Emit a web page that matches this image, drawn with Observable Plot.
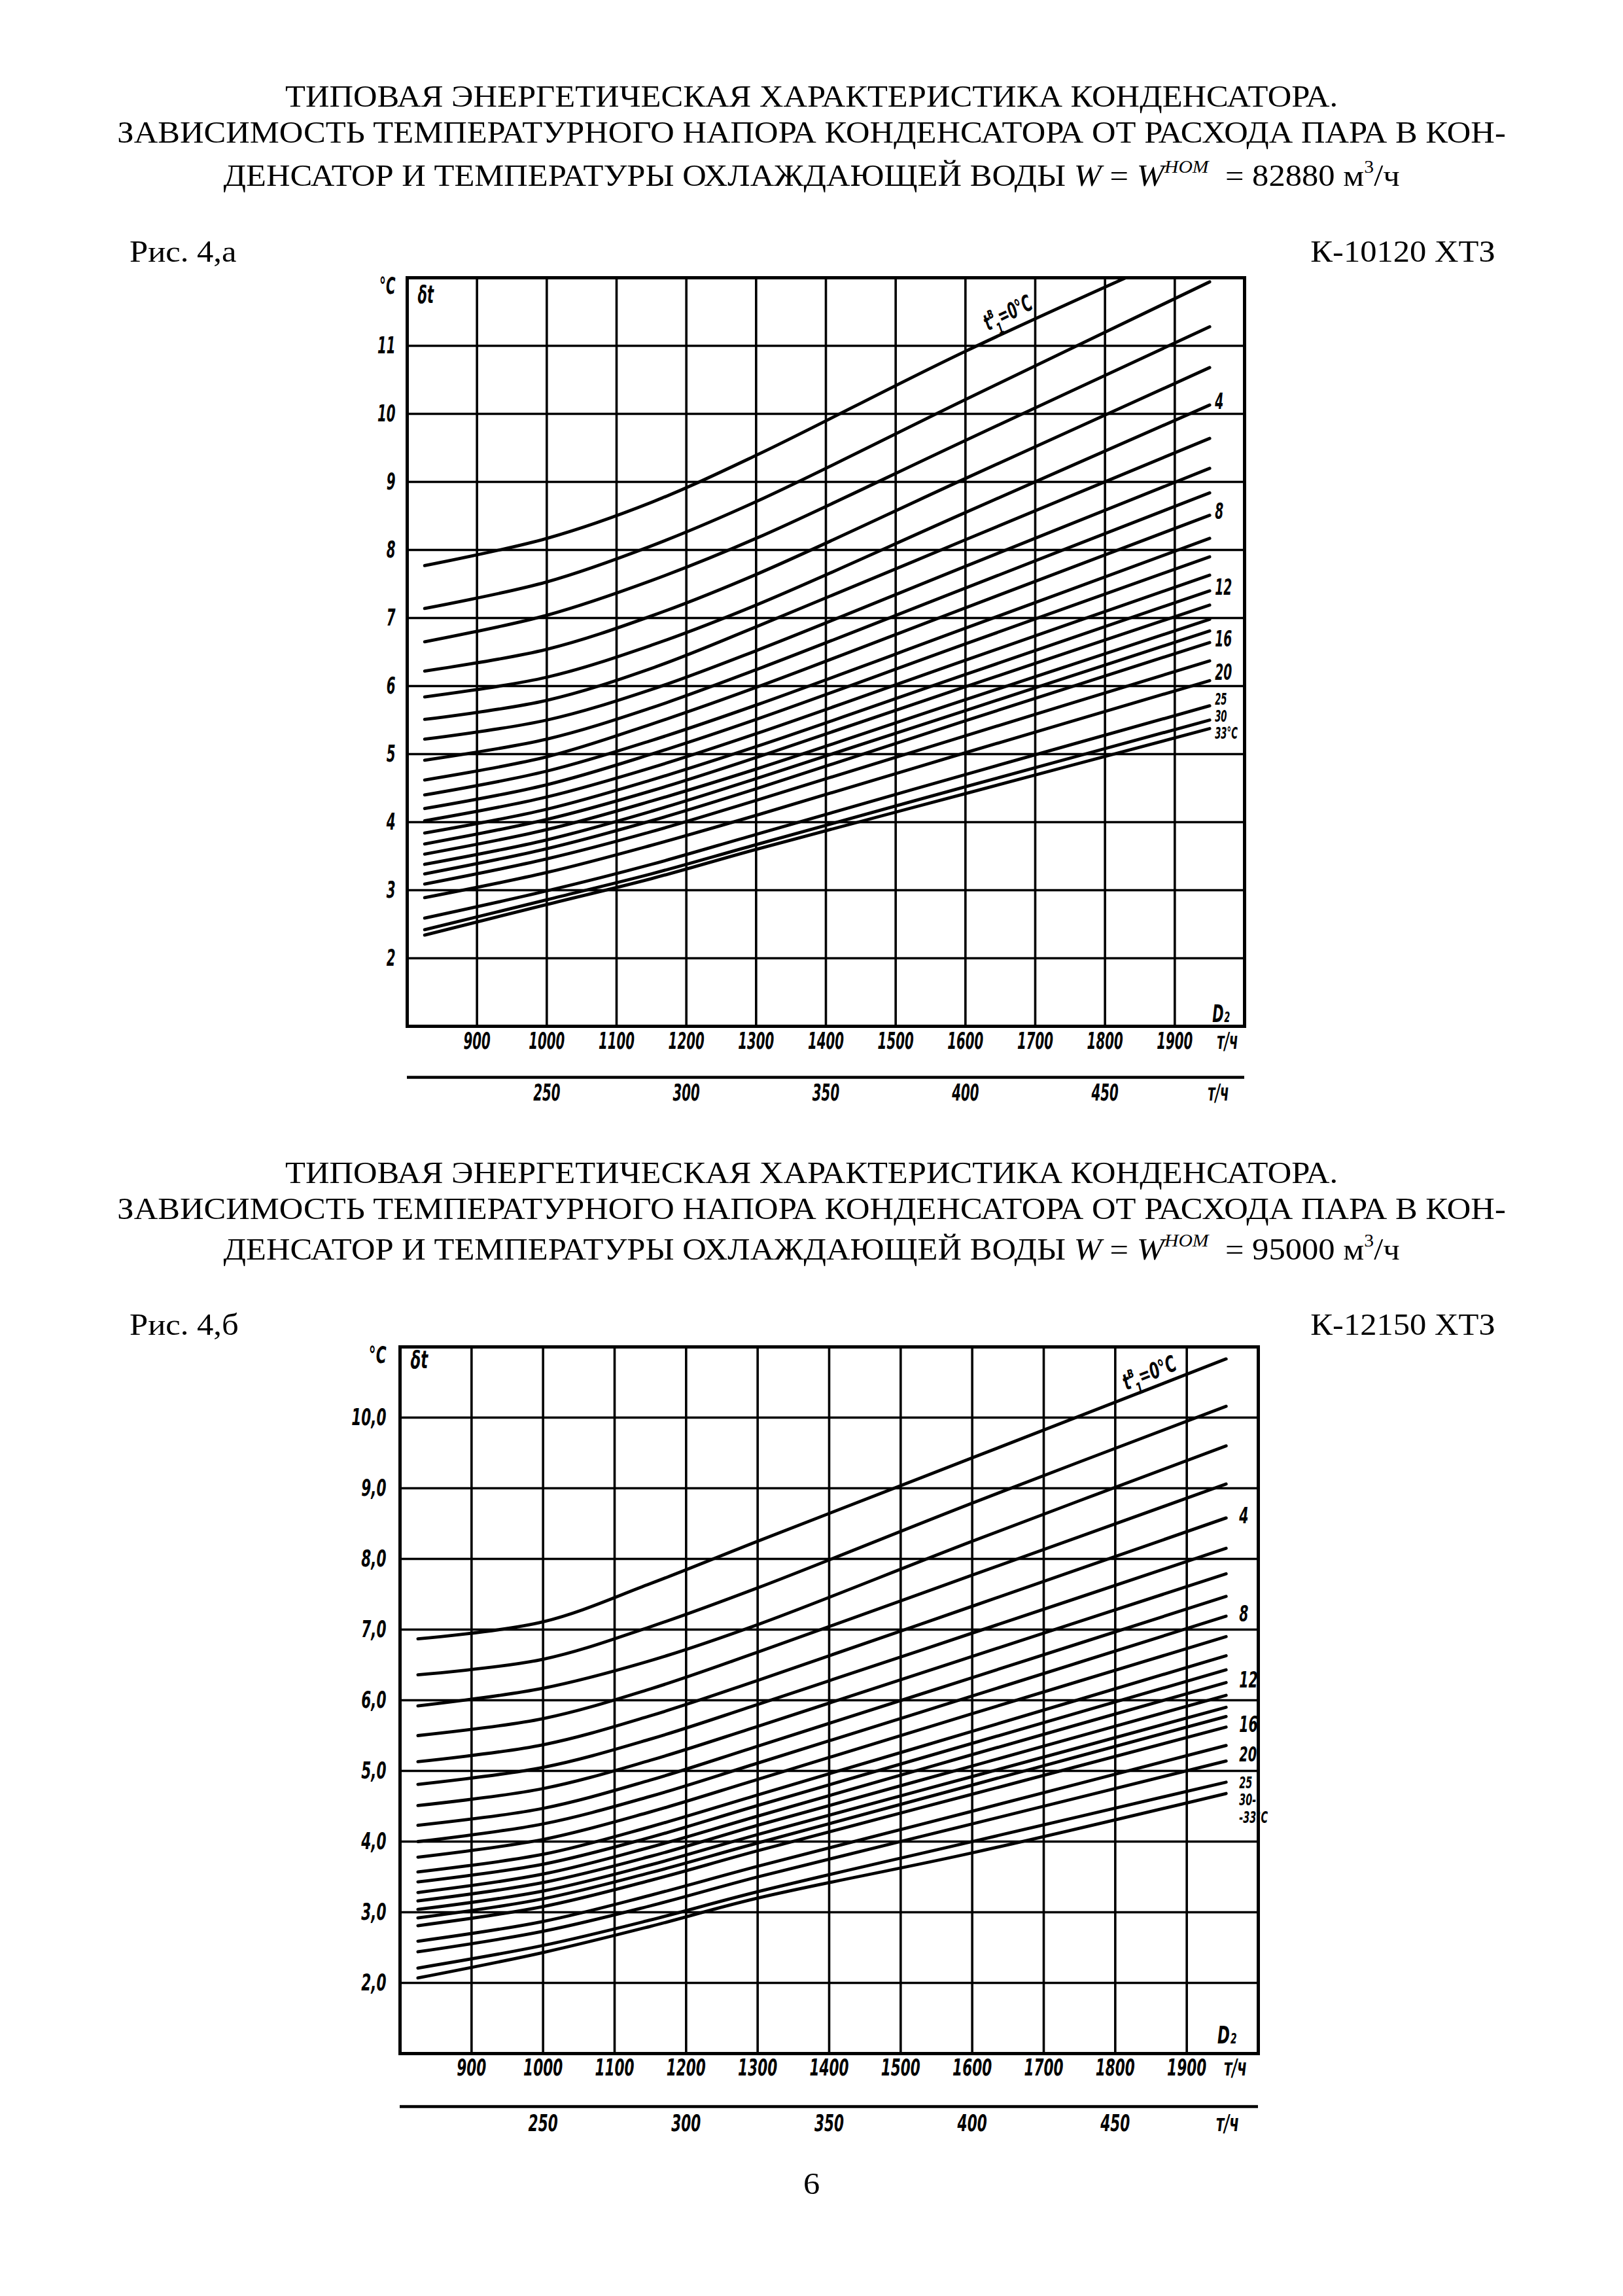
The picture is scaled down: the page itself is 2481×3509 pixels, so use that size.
<!DOCTYPE html>
<html><head><meta charset="utf-8">
<script src="https://cdn.jsdelivr.net/npm/d3@7"></script>
<script src="https://cdn.jsdelivr.net/npm/@observablehq/plot@0.6"></script>
<style>
html,body{margin:0;padding:0;background:#fff;}
#page{position:relative;width:2481px;height:3509px;background:#fff;font-family:"Liberation Serif","Times New Roman",serif;color:#000;overflow:hidden;}
.tl{position:absolute;left:0;width:2481px;text-align:center;font-size:46px;line-height:46px;white-space:nowrap;transform:scaleX(1.1);transform-origin:1240px 0;}
.fig{position:absolute;font-size:46px;line-height:46px;white-space:nowrap;transform:scaleX(1.1);}
.fl{transform-origin:left top;}
.fr{transform-origin:right top;}
.chart{position:absolute;}
.tl sup{font-size:27px;line-height:0;position:relative;top:-4px;}
</style></head>
<body><div id="page">
<div class="tl" style="top:125px">ТИПОВАЯ ЭНЕРГЕТИЧЕСКАЯ ХАРАКТЕРИСТИКА КОНДЕНСАТОРА.</div>
<div class="tl" style="top:180px">ЗАВИСИМОСТЬ ТЕМПЕРАТУРНОГО НАПОРА КОНДЕНСАТОРА ОТ РАСХОДА ПАРА В КОН-</div>
<div class="tl" style="top:246px">ДЕНСАТОР И ТЕМПЕРАТУРЫ ОХЛАЖДАЮЩЕЙ ВОДЫ <i>W</i> = <i>W</i><sup><i>НОМ</i></sup>&nbsp; = 82880&nbsp;м<sup>3</sup>/ч</div>
<div class="fig fl" style="left:198px;top:362px">Рис. 4,а</div>
<div class="fig fr" style="right:195px;top:362px">К-10120 ХТЗ</div>
<div class="chart" id="chartA" style="left:520px;top:400px"></div>

<div class="tl" style="top:1770px">ТИПОВАЯ ЭНЕРГЕТИЧЕСКАЯ ХАРАКТЕРИСТИКА КОНДЕНСАТОРА.</div>
<div class="tl" style="top:1825px">ЗАВИСИМОСТЬ ТЕМПЕРАТУРНОГО НАПОРА КОНДЕНСАТОРА ОТ РАСХОДА ПАРА В КОН-</div>
<div class="tl" style="top:1887px">ДЕНСАТОР И ТЕМПЕРАТУРЫ ОХЛАЖДАЮЩЕЙ ВОДЫ <i>W</i> = <i>W</i><sup><i>НОМ</i></sup>&nbsp; = 95000&nbsp;м<sup>3</sup>/ч</div>
<div class="fig fl" style="left:198px;top:2002px">Рис. 4,б</div>
<div class="fig fr" style="right:195px;top:2002px">К-12150 ХТЗ</div>
<div class="chart" id="chartB" style="left:510px;top:2030px"></div>

<div class="tl" style="top:3315px">6</div>
</div>
<script>
// ---------- data ----------
const xDomain = [800, 2000];                 // D2, т/ч
const xTicks = [900, 1000, 1100, 1200, 1300, 1400, 1500, 1600, 1700, 1800, 1900];
const secTicks = [250, 300, 350, 400, 450];   // second scale, т/ч
const secRatio = 4;                           // main scale = 4 × second scale

// Fig. 4,a  (K-10120 ХТЗ, W = 82880 m3/h)
const yDomainA = [1, 12];
const yTicksA = [2, 3, 4, 5, 6, 7, 8, 9, 10, 11];
const flowA = [825, 1000, 1150, 1300, 1600, 1950];
const tempsA = ["0","1","2","3","4","5","6","7","8","9","10","11","12","13","14","15","16","18","20","25","30","33"];
const dtA = [
  [7.77, 8.17, 8.70, 9.39, 10.92, 12.55],
  [7.14, 7.53, 8.06, 8.71, 10.21, 11.94],
  [6.65, 7.04, 7.55, 8.17, 9.61, 11.28],
  [6.22, 6.54, 7.03, 7.64, 9.05, 10.68],
  [5.84, 6.13, 6.60, 7.19, 8.55, 10.13],
  [5.51, 5.79, 6.26, 6.87, 8.15, 9.64],
  [5.22, 5.50, 5.95, 6.52, 7.76, 9.20],
  [4.91, 5.22, 5.68, 6.24, 7.44, 8.84],
  [4.62, 4.96, 5.44, 5.98, 7.15, 8.51],
  [4.40, 4.75, 5.20, 5.72, 6.85, 8.17],
  [4.20, 4.55, 5.00, 5.51, 6.62, 7.90],
  [4.02, 4.37, 4.80, 5.30, 6.38, 7.63],
  [3.84, 4.19, 4.62, 5.11, 6.17, 7.40],
  [3.68, 4.04, 4.46, 4.95, 5.99, 7.19],
  [3.53, 3.89, 4.31, 4.78, 5.80, 6.98],
  [3.38, 3.74, 4.16, 4.64, 5.64, 6.81],
  [3.24, 3.61, 4.02, 4.49, 5.49, 6.64],
  [3.09, 3.46, 3.86, 4.32, 5.27, 6.37],
  [2.89, 3.26, 3.66, 4.10, 5.02, 6.08],
  [2.59, 2.99, 3.38, 3.82, 4.70, 5.71],
  [2.42, 2.86, 3.24, 3.67, 4.52, 5.50],
  [2.34, 2.79, 3.17, 3.60, 4.42, 5.375]
];

// Fig. 4,б  (K-12150 ХТЗ, W = 95000 m3/h)
const yDomainB = [1, 11];
const yTicksB = [2, 3, 4, 5, 6, 7, 8, 9, 10];
const flowB = [825, 1000, 1150, 1300, 1600, 1955];
const tempsB = ["0","1","2","3","4","5","6","7","8","9","10","11","12","13","14","15","16","18","20","25","30–33"];
const dtB = [
  [6.87, 7.11, 7.65, 8.25, 9.43, 10.83],
  [6.36, 6.58, 7.04, 7.59, 8.79, 10.16],
  [5.92, 6.17, 6.56, 7.07, 8.25, 9.60],
  [5.50, 5.74, 6.16, 6.68, 7.77, 9.06],
  [5.13, 5.37, 5.78, 6.28, 7.33, 8.58],
  [4.81, 5.05, 5.45, 5.94, 6.95, 8.15],
  [4.51, 4.75, 5.15, 5.63, 6.62, 7.79],
  [4.23, 4.47, 4.87, 5.35, 6.32, 7.47],
  [4.00, 4.25, 4.64, 5.11, 6.06, 7.19],
  [3.78, 4.03, 4.42, 4.88, 5.81, 6.90],
  [3.57, 3.82, 4.21, 4.66, 5.56, 6.63],
  [3.43, 3.68, 4.06, 4.51, 5.39, 6.43],
  [3.28, 3.54, 3.92, 4.36, 5.23, 6.25],
  [3.16, 3.42, 3.79, 4.23, 5.07, 6.07],
  [3.04, 3.30, 3.67, 4.10, 4.92, 5.90],
  [2.92, 3.19, 3.56, 3.98, 4.80, 5.77],
  [2.81, 3.08, 3.45, 3.87, 4.67, 5.62],
  [2.59, 2.87, 3.24, 3.65, 4.43, 5.36],
  [2.44, 2.73, 3.09, 3.50, 4.25, 5.14],
  [2.21, 2.53, 2.89, 3.29, 4.00, 4.84],
  [2.07, 2.43, 2.80, 3.20, 3.84, 4.68]
];

// curve labels (which curve end each label sits at, and its text)
const labelsA = [
  {at: ["4", "8", "12", "16"], text: ["4", "8", "12", "16"]},
  {at: ["20"], text: ["20"]},
  {at: ["30"], text: ["25\n30\n33°C"]}
];
const labelsB = [
  {at: ["4", "8", "12", "16"], text: ["4", "8", "12", "16"]},
  {at: ["20"], text: ["20"]},
  {at: ["25"], text: ["25\n30-\n-33°C"]}
];

// ---------- drawing ----------
const LABEL_FONT = "'DejaVu Sans','Liberation Sans',sans-serif";
const font = {fontFamily: LABEL_FONT, fontStyle: "italic", fontWeight: "bold", fill: "#000"};

function build(o) {
  const last = o.flow.length - 1;
  const rows = o.dt.flatMap((vals, i) => vals.map((v, j) => ({t: o.temps[i], D: o.flow[j], v})));
  const ends = o.temps.map((t, i) => ({t, D: o.flow[last], v: o.dt[i][last]}));
  const t0Point = rows.find(r => r.t === o.temps[0] && r.D === o.flow[o.t0At]);
  const labelMarks = o.labels.map((g, k) => Plot.text(
    ends.filter(e => g.at.includes(e.t)),
    {x: "D", y: "v", text: e => g.text[g.at.indexOf(e.t)], dx: o.labelDx, dy: o.labelDy[k],
     textAnchor: "start", lineHeight: o.labelLH[k], fontSize: o.labelSize[k], ...font}));
  const plot = Plot.plot({
    width: o.width, height: o.height,
    marginLeft: o.mL, marginRight: o.mR, marginTop: o.mT, marginBottom: o.mB,
    x: {domain: xDomain, axis: null},
    y: {domain: o.yDomain, axis: null},
    style: {background: "transparent", overflow: "visible", maxWidth: "none"},
    marks: [
      Plot.ruleX(xTicks, {stroke: "#000", strokeWidth: 3.6}),
      Plot.ruleY(o.yTicks, {stroke: "#000", strokeWidth: 3.6}),
      Plot.line(rows, {x: "D", y: "v", z: "t", curve: "catmull-rom", stroke: "#000", strokeWidth: 4.8, clip: true}),
      Plot.frame({stroke: "#000", strokeWidth: 5}),
      Plot.text(xTicks, {x: d => d, y: o.yDomain[0], dy: o.xLabelDy, text: d => String(d), fontSize: 36, ...font}),
      Plot.text(o.yTicks, {x: xDomain[0], y: d => d, dx: o.yLabelDx, textAnchor: "end", text: o.yFormat, fontSize: 36, ...font}),
      Plot.text(["°C"], {x: xDomain[0], y: o.yDomain[1], dx: o.yLabelDx, dy: 13, textAnchor: "end", text: d => d, fontSize: 36, ...font}),
      Plot.text(["δt"], {x: xDomain[0], y: o.yDomain[1], dx: 16, dy: o.deltaDy, textAnchor: "start", text: d => d, fontSize: 38, ...font}),
      Plot.text(["D₂"], {x: xDomain[1], y: o.yDomain[0], dx: o.dDx, dy: o.dDy, text: d => d, fontSize: 38, ...font}),
      Plot.text(["т/ч"], {x: xDomain[1], y: o.yDomain[0], dx: o.unitDx, dy: o.xLabelDy, text: d => d, fontSize: 36, ...font}),
      Plot.ruleY([o.yDomain[0]], {x1: xDomain[0], x2: xDomain[1], dy: o.secLineDy, stroke: "#000", strokeWidth: 4.5}),
      Plot.text(secTicks, {x: d => d * secRatio, y: o.yDomain[0], dy: o.secLabelDy, text: d => String(d), fontSize: 36, ...font}),
      Plot.text(["т/ч"], {x: xDomain[1], y: o.yDomain[0], dx: o.secUnitDx, dy: o.secLabelDy, text: d => d, fontSize: 36, ...font}),
      ...labelMarks,
      Plot.text([t0Point], {x: "D", y: "v", text: () => "t=0°C", dx: o.t0Dx, dy: o.t0Dy, rotate: o.t0Rotate, fontSize: 34, ...font})
    ]
  });
  plot.querySelectorAll("text").forEach(el => {
    if (el.textContent === "t=0°C") {
      el.innerHTML = 't<tspan font-size="24" dy="-15">в</tspan><tspan font-size="24" dx="-8" dy="28">1</tspan><tspan dy="-13">=0°C</tspan>';
      el.setAttribute("data-rich", "1");
    }
  });
  return plot;
}

// condense the italic labels (the original uses a narrow drawing font)
function condense(svg, k) {
  svg.querySelectorAll("text").forEach(el => {
    const spans = el.querySelectorAll("tspan");
    if (spans.length && !el.hasAttribute("data-rich")) {
      spans.forEach(s => {
        const w = s.getComputedTextLength();
        if (w > 0) { s.setAttribute("textLength", (w * k).toFixed(1)); s.setAttribute("lengthAdjust", "spacingAndGlyphs"); }
      });
    } else {
      const w = el.getComputedTextLength();
      if (w > 0) { el.setAttribute("textLength", (w * k).toFixed(1)); el.setAttribute("lengthAdjust", "spacingAndGlyphs"); }
    }
  });
}

const svgA = build({
  flow: flowA, temps: tempsA, dt: dtA, yDomain: yDomainA, yTicks: yTicksA, yFormat: d => String(d),
  width: 1440, height: 1300, mL: 102, mR: 58, mT: 24, mB: 132,
  xLabelDy: 23, yLabelDx: -18, deltaDy: 26, dDx: -36, dDy: -19, unitDx: -26,
  secLineDy: 78, secLabelDy: 102, secUnitDx: -40,
  labels: labelsA, labelDx: 8, labelDy: [-5, -12, -6], labelSize: [34, 34, 24], labelLH: [1, 1, 1.1],
  t0At: 4, t0Dx: 65, t0Dy: -58, t0Rotate: -26
});
document.getElementById("chartA").append(svgA);
condense(svgA, 0.55);

const svgB = build({
  flow: flowB, temps: tempsB, dt: dtB, yDomain: yDomainB, yTicks: yTicksB, yFormat: d => d + ",0",
  width: 1470, height: 1250, mL: 101, mR: 57, mT: 28, mB: 142,
  xLabelDy: 22, yLabelDx: -21, deltaDy: 20, dDx: -48, dDy: -28, unitDx: -35,
  secLineDy: 81, secLabelDy: 107, secUnitDx: -47,
  labels: labelsB, labelDx: 20, labelDy: [-3, -10, 27], labelSize: [34, 32, 24], labelLH: [1, 1, 1.1],
  t0At: 5, t0Dx: -117, t0Dy: 22, t0Rotate: -22
});
document.getElementById("chartB").append(svgB);
condense(svgB, 0.6);
</script>
</body></html>
